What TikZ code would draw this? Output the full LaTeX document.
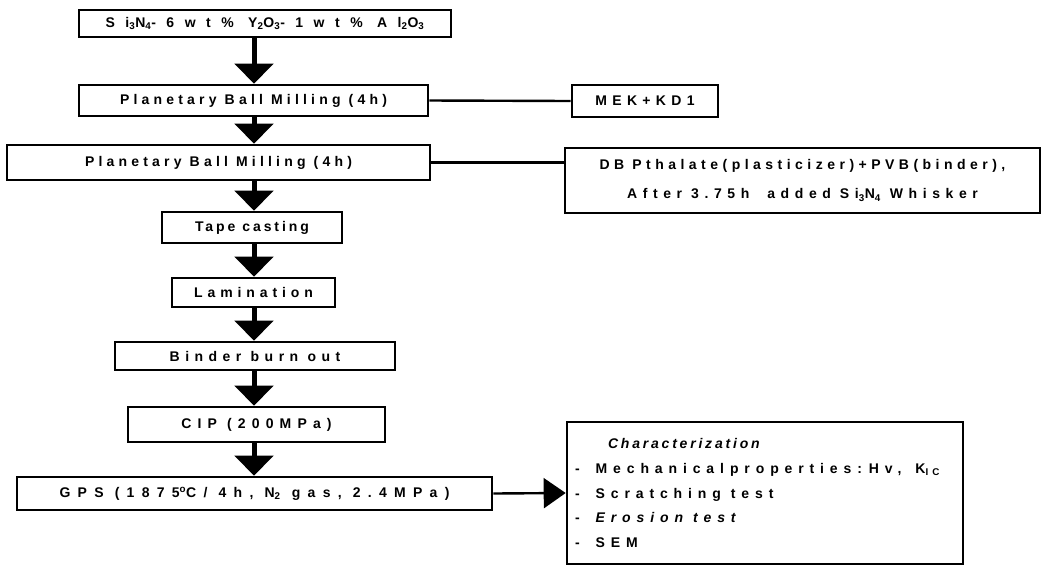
\documentclass[tikz,border=0pt]{standalone}
\usepackage{fontspec}
\setmainfont{Liberation Sans}
\usetikzlibrary{arrows.meta}

\newcommand{\spc}[1]{\addfontfeature{LetterSpace=#1}}

\begin{document}
\begin{tikzpicture}[x=1pt,y=-1pt,
    box/.style={draw,line width=2.6pt,inner sep=0pt,font=\bfseries\fontsize{14}{16}\selectfont},
    flow/.style={line width=5pt,-{Triangle[width=38pt,length=20pt]}},
    link/.style={line width=2.4pt}]
  \useasboundingbox (0,0) rectangle (1046,566);
  % process chain
  \node[box,minimum width=372pt,minimum height=27pt] (raw) at (265,23.5) {\spc{75}Si\textsubscript{3}N\textsubscript{4}-6wt\% Y\textsubscript{2}O\textsubscript{3}-1wt\% Al\textsubscript{2}O\textsubscript{3}};
  \node[box,minimum width=349pt,minimum height=31pt] (mill1) at (253.5,100.5) {\spc{30}Planetary Ball Milling (4h)};
  \node[box,minimum width=423pt,minimum height=35pt] (mill2) at (218.5,162.5) {\spc{30}Planetary Ball Milling (4h)};
  \node[box,minimum width=180pt,minimum height=31pt] (tape) at (252,227.5) {\spc{21}Tape casting};
  \node[box,minimum width=163pt,minimum height=29pt] (lam) at (253.5,292.5) {\spc{35}Lamination};
  \node[box,minimum width=280pt,minimum height=28pt] (burn) at (255,356) {\spc{39}Binder burn out};
  \node[box,minimum width=257pt,minimum height=35pt] (cip) at (256.5,424.5) {\spc{44}CIP (200MPa)};
  \node[box,minimum width=475pt,minimum height=33pt] (gps) at (254.5,493.5) {\spc{52}GPS (1875\textsuperscript{o}C/ 4h, N\textsubscript{2} gas, 2.4MPa)};
  % additives
  \node[box,minimum width=146pt,minimum height=32pt] (mek) at (645,101) {\spc{38}MEK+KD1};
  \node[box,minimum width=475pt,minimum height=65pt,align=center,font=\bfseries\fontsize{14}{29}\selectfont] (db) at (802.5,180.5)
    {{\spc{32}\spaceskip=8pt DB Pthalate(plasticizer)+PVB(binder),}\\{\spc{40}\spaceskip=9pt After 3.75h\ \ added Si\textsubscript{3}N\textsubscript{4} Whisker}};
  % results
  \node[box,text width=380pt,inner xsep=8pt,minimum height=142pt,align=left,font=\bfseries\fontsize{14}{24.8}\selectfont] (char) at (765,493)
    {\hspace{33pt}{\itshape\spc{20}Characterization}\\
     {\spc{42}\spaceskip=6pt -\hspace{16pt}Mechanical properties: Hv,\hspace{14pt}K\textsubscript{IC}}\\
     {\spc{42}\spaceskip=10pt -\hspace{16pt}Scratching test}\\
     {\spc{42}\spaceskip=10pt -\hspace{16pt}\itshape Erosion test}\\
     {\spc{42}-\hspace{16pt}SEM}};
  \coordinate (spine) at (254,0);
  \draw[flow] (raw.south -| spine) -- (mill1.north -| spine);
  \draw[flow] (mill1.south -| spine) -- (mill2.north -| spine);
  \draw[flow] (mill2.south -| spine) -- (tape.north -| spine);
  \draw[flow] (tape.south -| spine) -- (lam.north -| spine);
  \draw[flow] (lam.south -| spine) -- (burn.north -| spine);
  \draw[flow] (burn.south -| spine) -- (cip.north -| spine);
  \draw[flow] (cip.south -| spine) -- (gps.north -| spine);
  \draw[link] (mill1.east) -- (mek.west);
  \draw[link] (mill2.east) -- (mill2.east -| db.west);
  \draw[link,-{Triangle[width=30pt,length=22pt]}] (gps.east) -- (char.west);
\end{tikzpicture}
\end{document}
